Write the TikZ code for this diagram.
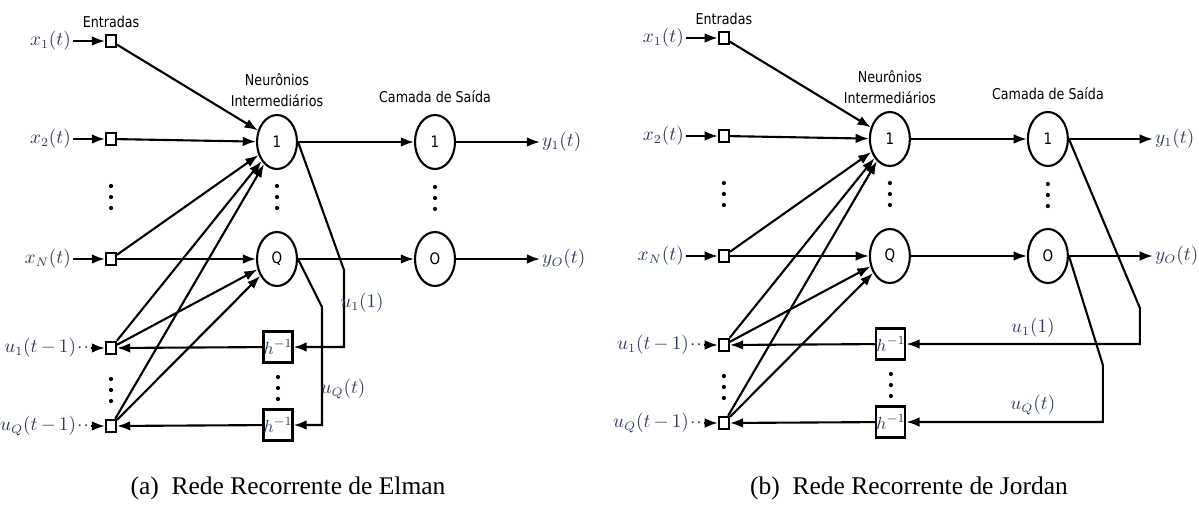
\documentclass[tikz,border=0pt]{standalone}
\usepackage{fontspec}
\usepackage{tikz}
\usetikzlibrary{arrows.meta,shapes.geometric,positioning}
\newfontfamily\headfont{DejaVu Sans}[FakeStretch=0.85]
\newfontfamily\capfont{Liberation Serif}
\definecolor{labelc}{RGB}{45,55,95}

\tikzset{
  inbox/.style={draw, line width=1.2pt, minimum width=0.2cm, minimum height=0.25cm, inner sep=0pt},
  delaybox/.style={draw, line width=1.2pt, minimum width=0.52cm, minimum height=0.62cm,
    inner sep=0pt, text=labelc, font=\fontsize{10}{10}\selectfont},
  neuron/.style={draw, ellipse, line width=1.2pt, minimum width=0.8cm, minimum height=1.08cm,
    inner sep=0pt, font=\headfont\fontsize{9}{9}\selectfont},
  heading/.style={font=\headfont\fontsize{8.5}{12}\selectfont, align=center},
  mlabel/.style={text=labelc, inner sep=1pt, font=\fontsize{10.5}{12}\selectfont},
  ulabel/.style={mlabel, anchor=east},
  arr/.style={-{Latex[length=7.5pt,width=5.5pt]}, line width=1.2pt},
  vdotspic/.pic={\foreach \d in {-11,0,11} \fill (0,\d) circle (2.1);},
  caption/.style={font=\capfont\fontsize{14.5}{15}\selectfont},
}

\begin{document}
\begin{tikzpicture}[x=0.02cm, y=-0.02cm]
  \useasboundingbox (0,0) rectangle (1199,504);
  % Elman
  \begin{scope}
    % inputs
    \node[heading] (eent) at (111,22) {Entradas};
    \node[inbox] (ex1) at (111,41) {};
    \node[inbox] (ex2) at (111,139) {};
    \node[inbox] (exN) at (111,259) {};
    \node[inbox] (eu1) at (111,348) {};
    \node[inbox] (euQ) at (111,426) {};
    \pic at (111,197) {vdotspic};
    \pic at (111,390) {vdotspic};
    \node[mlabel,anchor=east] (ex1l) at (73,41) {$x_1(t)$};
    \node[mlabel,anchor=east] (ex2l) at (73,139) {$x_2(t)$};
    \node[mlabel,anchor=east] (exNl) at (73,259) {$x_N(t)$};
    \node[ulabel] (eu1l) at (91,348) {$u_1(t\,{-}\,1)\!\cdot\!\cdot$};
    \node[ulabel] (euQl) at (91,426) {$u_Q(t\,{-}\,1)\!\cdot\!\cdot$};
    \draw[arr] (ex1l) -- (ex1);
    \draw[arr] (ex2l) -- (ex2);
    \draw[arr] (exNl) -- (exN);
    \draw[arr] (eu1l) -- (eu1);
    \draw[arr] (euQl) -- (euQ);
    % hidden layer
    \node[heading] (ehid) at (277,90) {Neurônios\\Intermediários};
    \node[neuron] (eh1) at (277,142) {1};
    \node[neuron] (ehQ) at (277,259) {Q};
    \pic at (277,197) {vdotspic};
    % output layer
    \node[heading] (eout) at (435,97) {Camada de Saída};
    \node[neuron] (eo1) at (435,142) {1};
    \node[neuron] (eoO) at (435,259) {O};
    \pic at (435,198) {vdotspic};
    \node[mlabel,anchor=west] (ey1) at (540,142) {$y_1(t)$};
    \node[mlabel,anchor=west] (eyO) at (540,259) {$y_O(t)$};
    % delays
    \node[delaybox] (ed1) at (278,347) {$h^{-1}$};
    \node[delaybox] (edQ) at (278,425) {$h^{-1}$};
    \pic at (278,388) {vdotspic};
    % connections
    \draw[arr] (ex1) -- (eh1);
    \draw[arr] (ex2) -- (eh1);
    \draw[arr] (exN) -- (eh1);
    \draw[arr] (exN) -- (ehQ);
    \draw[arr] (eu1) -- (eh1);
    \draw[arr] (eu1) -- (ehQ);
    \draw[arr] (euQ) -- (eh1);
    \draw[arr] (euQ) -- (ehQ);
    \draw[arr] (eh1) -- (eo1);
    \draw[arr] (ehQ) -- (eoO);
    \draw[arr] (eo1) -- (ey1);
    \draw[arr] (eoO) -- (eyO);
    % feedback from hidden layer
    \coordinate (ek1) at (344,270);
    \coordinate (ekQ) at (322,307);
    \draw[arr] (eh1.east) -- (ek1) |- (ed1);
    \draw[arr] (ehQ.east) -- (ekQ) |- (edQ);
    \draw[arr] (ed1) -- (eu1);
    \draw[arr] (edQ) -- (euQ);
    \node[mlabel] at (362,303) {$u_1(1)$};
    \node[mlabel] at (343,389) {$u_Q(t)$};
  \end{scope}
  % Jordan
  \begin{scope}[xshift=12.26cm, yshift=0.06cm]
    % inputs
    \node[heading] (jent) at (111,22) {Entradas};
    \node[inbox] (jx1) at (111,41) {};
    \node[inbox] (jx2) at (111,139) {};
    \node[inbox] (jxN) at (111,259) {};
    \node[inbox] (ju1) at (111,348) {};
    \node[inbox] (juQ) at (111,426) {};
    \pic at (111,197) {vdotspic};
    \pic at (111,390) {vdotspic};
    \node[mlabel,anchor=east] (jx1l) at (73,41) {$x_1(t)$};
    \node[mlabel,anchor=east] (jx2l) at (73,139) {$x_2(t)$};
    \node[mlabel,anchor=east] (jxNl) at (73,259) {$x_N(t)$};
    \node[ulabel] (ju1l) at (91,348) {$u_1(t\,{-}\,1)\!\cdot\!\cdot$};
    \node[ulabel] (juQl) at (91,426) {$u_Q(t\,{-}\,1)\!\cdot\!\cdot$};
    \draw[arr] (jx1l) -- (jx1);
    \draw[arr] (jx2l) -- (jx2);
    \draw[arr] (jxNl) -- (jxN);
    \draw[arr] (ju1l) -- (ju1);
    \draw[arr] (juQl) -- (juQ);
    % hidden layer
    \node[heading] (jhid) at (277,90) {Neurônios\\Intermediários};
    \node[neuron] (jh1) at (277,142) {1};
    \node[neuron] (jhQ) at (277,259) {Q};
    \pic at (277,197) {vdotspic};
    % output layer
    \node[heading] (jout) at (435,97) {Camada de Saída};
    \node[neuron] (jo1) at (435,142) {1};
    \node[neuron] (joO) at (435,259) {O};
    \pic at (435,198) {vdotspic};
    \node[mlabel,anchor=west] (jy1) at (540,142) {$y_1(t)$};
    \node[mlabel,anchor=west] (jyO) at (540,259) {$y_O(t)$};
    % delays
    \node[delaybox] (jd1) at (278,347) {$h^{-1}$};
    \node[delaybox] (jdQ) at (278,425) {$h^{-1}$};
    \pic at (278,388) {vdotspic};
    % connections
    \draw[arr] (jx1) -- (jh1);
    \draw[arr] (jx2) -- (jh1);
    \draw[arr] (jxN) -- (jh1);
    \draw[arr] (jxN) -- (jhQ);
    \draw[arr] (ju1) -- (jh1);
    \draw[arr] (ju1) -- (jhQ);
    \draw[arr] (juQ) -- (jh1);
    \draw[arr] (juQ) -- (jhQ);
    \draw[arr] (jh1) -- (jo1);
    \draw[arr] (jhQ) -- (joO);
    \draw[arr] (jo1) -- (jy1);
    \draw[arr] (joO) -- (jyO);
    % feedback from output layer
    \coordinate (jk1) at (527,311);
    \coordinate (jkQ) at (490,368);
    \draw[arr] (jo1.east) -- (jk1) |- (jd1);
    \draw[arr] (joO.east) -- (jkQ) |- (jdQ);
    \draw[arr] (jd1) -- (ju1);
    \draw[arr] (jdQ) -- (juQ);
    \node[mlabel] at (420,331) {$u_1(1)$};
    \node[mlabel] at (420,408) {$u_Q(t)$};
  \end{scope}
  % captions
  \node[caption] (capa) at (288,488) {(a)\ \ Rede Recorrente de Elman};
  \node[caption] (capb) at (909,488) {(b)\ \ Rede Recorrente de Jordan};
\end{tikzpicture}
\end{document}
